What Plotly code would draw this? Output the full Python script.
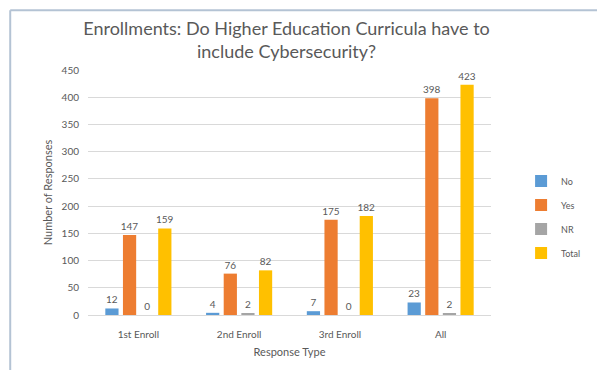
import plotly.graph_objects as go

# Survey responses grouped by enrollment cohort
categories = ["1st Enroll", "2nd Enroll", "3rd Enroll", "All"]
no_vals = [12, 4, 7, 23]
yes_vals = [147, 76, 175, 398]
nr_vals = [0, 2, 0, 2]
total_vals = [159, 82, 182, 423]

series_names = ["No", "Yes", "NR", "Total"]
series_colors = ["#5B9BD5", "#ED7D31", "#A5A5A5", "#FFC000"]
y_ticks = [0, 50, 100, 150, 200, 250, 300, 350, 400, 450]

FONT = "Lato, 'Open Sans', sans-serif"

fig = go.Figure()
for name, vals, color in zip(series_names, [no_vals, yes_vals, nr_vals, total_vals], series_colors):
    fig.add_trace(go.Bar(
        name=name,
        legendgroup=name,
        x=categories,
        y=vals,
        marker=dict(color=color, line=dict(width=0)),
        text=[str(v) for v in vals],
        textposition="outside",
        textfont=dict(size=10, color="#595959", family=FONT),
        constraintext="none",
        cliponaxis=False,
    ))

fig.update_layout(
    width=597,
    height=370,
    margin=dict(l=88, r=105, t=70, b=55),
    paper_bgcolor="white",
    plot_bgcolor="white",
    barmode="group",
    bargap=0.3,
    bargroupgap=0.25,
    font=dict(family=FONT, color="#595959"),
    title=dict(
        text="Enrollments: Do Higher Education Curricula have to<br>include Cybersecurity?",
        x=0.48,
        xanchor="center",
        y=0.906,
        yanchor="top",
        font=dict(size=18, color="#595959", family=FONT),
    ),
    legend=dict(
        x=1.072,
        y=0.40,
        xanchor="left",
        yanchor="middle",
        font=dict(size=9, color="#595959", family=FONT),
        itemwidth=30,
        tracegroupgap=5,
        bgcolor="rgba(0,0,0,0)",
    ),
    showlegend=True,
)

fig.update_xaxes(
    title=dict(text="Response Type", font=dict(size=11, color="#595959"), standoff=9),
    tickfont=dict(size=10, color="#595959"),
    ticklabelstandoff=10,
    showline=True,
    linecolor="#D9D9D9",
    linewidth=1,
    ticks="",
)
fig.update_yaxes(
    title=dict(text="Number of Responses", font=dict(size=11, color="#595959"), standoff=6),
    range=[0, 450],
    tickvals=y_ticks,
    tickfont=dict(size=10, color="#595959"),
    ticklabelstandoff=8,
    showgrid=True,
    gridcolor="#D9D9D9",
    gridwidth=1,
    zeroline=False,
    ticks="",
)

# Frame lines along the top and left edges of the chart area
fig.add_shape(type="line", xref="paper", yref="paper", x0=-0.193, x1=1.3, y0=1.244, y1=1.244,
              line=dict(color="#B4C3D4", width=2))
fig.add_shape(type="line", xref="paper", yref="paper", x0=-0.193, x1=-0.193, y0=-0.25, y1=1.244,
              line=dict(color="#B4C3D4", width=2))

fig.write_html("out.html")
